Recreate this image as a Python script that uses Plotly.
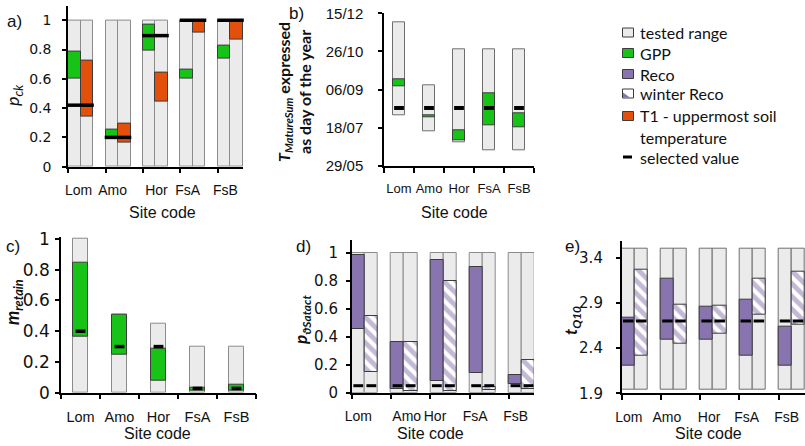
import plotly.graph_objects as go

W, H = 805, 446

sites = ["Lom", "Amo", "Hor", "FsA", "FsB"]

# a) p_ck : tested range, GPP-based and T1-based ranges, selected value
a_tested_lo = [0, 0, 0, 0, 0]
a_tested_hi = [1, 1, 1, 1, 1]
a_gpp_lo = [0.60, 0.20, 0.795, 0.60, 0.74]
a_gpp_hi = [0.785, 0.255, 0.97, 0.66, 0.83]
a_t1_lo = [0.345, 0.165, 0.445, 0.915, 0.87]
a_t1_hi = [0.725, 0.295, 0.64, 1.0, 1.0]
a_selected = [0.42, 0.20, 0.895, 1.0, 1.0]

# b) T_MatureSum as day of the year
b_day_ticks = [149, 199, 249, 299, 349]
b_day_labels = ["29/05", "18/07", "06/09", "26/10", "15/12"]
b_tested_lo = [216, 195, 180, 170, 170]
b_tested_hi = [337, 255, 302, 302, 302]
b_gpp_lo = [254, 213, 183, 202, 200]
b_gpp_hi = [263, 216, 196, 244, 218]
b_selected = [225, 225, 225, 225, 225]

# c) m_retain
c_tested_lo = [0, 0, 0, 0, 0]
c_tested_hi = [1.0, 0.505, 0.45, 0.30, 0.30]
c_gpp_lo = [0.365, 0.245, 0.075, 0.01, 0.01]
c_gpp_hi = [0.845, 0.505, 0.285, 0.03, 0.05]
c_selected = [0.40, 0.30, 0.30, 0.028, 0.028]

# d) p_theta_Satact : Reco and winter Reco
d_tested_lo = [0, 0, 0, 0, 0]
d_tested_hi = [1, 1, 1, 1, 1]
d_reco_lo = [0.455, 0.025, 0.085, 0.14, 0.065]
d_reco_hi = [0.985, 0.365, 0.945, 0.895, 0.125]
d_wreco_lo = [0.145, 0.01, 0.01, 0.02, 0.03]
d_wreco_hi = [0.545, 0.365, 0.795, 0.04, 0.235]
d_selected = [0.05, 0.05, 0.05, 0.05, 0.05]

# e) t_Q10 : Reco and winter Reco
e_tested_lo = [1.945, 1.945, 1.945, 1.945, 1.945]
e_tested_hi = [3.5, 3.5, 3.5, 3.5, 3.5]
e_reco_lo = [2.21, 2.49, 2.49, 2.32, 2.20]
e_reco_hi = [2.74, 3.17, 2.86, 2.94, 2.64]
e_wreco_lo = [2.32, 2.45, 2.56, 2.77, 2.66]
e_wreco_hi = [3.27, 2.88, 2.87, 3.17, 3.24]
e_selected = [2.70, 2.70, 2.70, 2.70, 2.70]

GREY = "#ebebeb"
GREY_LINE = "#8c8c8c"
GREEN = "#17c317"
ORANGE = "#e2500c"
PURPLE = "#8874ae"
DARK = "#3c3c3c"
TXT = "#111111"
WIDE = "DejaVu Sans, sans-serif"
ARIAL = "Liberation Sans, Arial, sans-serif"
LATO = "Lato, Carlito, Calibri, sans-serif"

fig = go.Figure()


def floating(n, xs, lo, hi, width, color, line_color, pattern=None):
    marker = dict(color=color, line=dict(color=line_color, width=1))
    if pattern is not None:
        marker["pattern"] = pattern
    fig.add_trace(go.Bar(
        x=xs, y=[h - l for l, h in zip(lo, hi)], base=lo, width=width,
        marker=marker, xaxis="x" + n, yaxis="y" + n,
        showlegend=False, hoverinfo="skip"))


def dashes(n, xs, ys, size, thick):
    fig.add_trace(go.Scatter(
        x=xs, y=ys, mode="markers",
        marker=dict(symbol="line-ew", size=size, color="black",
                    line=dict(width=thick, color="black")),
        xaxis="x" + n, yaxis="y" + n, showlegend=False, hoverinfo="skip",
        cliponaxis=False))


idx = list(range(len(sites)))
left = [i + 1 / 6 for i in idx]
right = [i + 1 / 2 for i in idx]
mid = [i + 1 / 3 for i in idx]
centre = [i + 0.5 for i in idx]
hatch = dict(shape="\\", fgcolor=PURPLE, bgcolor="white", size=9, solidity=0.55)

# a)
floating("", left, a_tested_lo, a_tested_hi, 1 / 3, GREY, GREY_LINE)
floating("", right, a_tested_lo, a_tested_hi, 1 / 3, GREY, GREY_LINE)
floating("", left, a_gpp_lo, a_gpp_hi, 1 / 3, GREEN, DARK)
floating("", right, a_t1_lo, a_t1_hi, 1 / 3, ORANGE, DARK)
dashes("", mid, a_selected, 19, 3.5)

# b)
floating("2", centre, b_tested_lo, b_tested_hi, 0.39, GREY, "#6e6e6e")
floating("2", centre, b_gpp_lo, b_gpp_hi, 0.39, GREEN, DARK)
dashes("2", centre, b_selected, 7, 4)

# c)
floating("3", centre, c_tested_lo, c_tested_hi, 0.4, GREY, GREY_LINE)
floating("3", centre, c_gpp_lo, c_gpp_hi, 0.4, GREEN, DARK)
dashes("3", centre, c_selected, 7, 3.5)

# d)
floating("4", left, d_tested_lo, d_tested_hi, 1 / 3, GREY, GREY_LINE)
floating("4", right, d_tested_lo, d_tested_hi, 1 / 3, GREY, GREY_LINE)
floating("4", left, d_reco_lo, d_reco_hi, 1 / 3, PURPLE, DARK)
floating("4", right, d_wreco_lo, d_wreco_hi, 1 / 3, "white", DARK, hatch)
dashes("4", left + right, d_selected + d_selected, 7, 3)

# e)
floating("5", left, e_tested_lo, e_tested_hi, 1 / 3, GREY, "#6e6e6e")
floating("5", right, e_tested_lo, e_tested_hi, 1 / 3, GREY, "#6e6e6e")
floating("5", left, e_reco_lo, e_reco_hi, 1 / 3, PURPLE, DARK)
floating("5", right, e_wreco_lo, e_wreco_hi, 1 / 3, "white", DARK, hatch)
dashes("5", left + right, e_selected + e_selected, 7.5, 3)


def px(p):
    return p / W


def py(p):
    return 1 - p / H


def xaxis(anchor, x0, x1, rng, labpos, fsize, standoff):
    return dict(
        domain=[px(x0), px(x1)], range=rng, anchor=anchor, automargin=False,
        tickmode="array", tickvals=labpos, ticktext=sites, ticks="",
        tickangle=0,
        showline=True, linecolor="black", linewidth=1.5,
        showgrid=False, zeroline=False, ticklabelstandoff=standoff,
        tickfont=dict(family=ARIAL, size=fsize, color=TXT),
        minor=dict(tickmode="linear", tick0=0, dtick=1, ticks="outside",
                   ticklen=5, tickwidth=1.5, tickcolor="black", showgrid=False))


def yaxis(anchor, y0, y1, rng, font, fsize, standoff, **kw):
    d = dict(
        domain=[py(y0), py(y1)], range=rng, anchor=anchor, automargin=False,
        ticks="outside", ticklen=4, tickwidth=1.5, tickcolor="black",
        showline=True, linecolor="black", linewidth=1.5,
        showgrid=False, zeroline=False, ticklabelstandoff=standoff,
        tickfont=dict(family=font, size=fsize, color=TXT))
    d.update(kw)
    return d


fig.update_layout(
    width=W, height=H, margin=dict(l=0, r=0, t=0, b=0),
    paper_bgcolor="white", plot_bgcolor="white",
    barmode="overlay", bargap=0, showlegend=False,
    xaxis=xaxis("y", 68, 243, [0, 4.667], [0.28, 1.19, 2.36, 3.19, 4.2], 14, 10),
    yaxis=yaxis("x", 166.7, 5.6, [0, 1.1], WIDE, 14, 8, tickmode="array",
                tickvals=[0, 0.2, 0.4, 0.6, 0.8, 1]),
    xaxis2=xaxis("y2", 384, 534, [0, 5], centre, 13, 10),
    yaxis2=yaxis("x2", 166, 13.3, [149, 349], ARIAL, 15, 12, tickmode="array",
                 tickvals=b_day_ticks, ticktext=b_day_labels),
    xaxis3=xaxis("y3", 61, 256, [0, 5], centre, 14.5, 10),
    yaxis3=yaxis("x3", 392.7, 236.7, [0, 1.015], WIDE, 17, 2, tickmode="array",
                 tickvals=[0, 0.2, 0.4, 0.6, 0.8, 1]),
    xaxis4=xaxis("y4", 351.7, 534, [0, 4.639], [0.17, 1.40, 2.12, 3.14, 4.17], 14, 10),
    yaxis4=yaxis("x4", 392.7, 240, [0, 1.0907], WIDE, 15, 5, tickmode="array",
                 tickvals=[0, 0.2, 0.4, 0.6, 0.8, 1]),
    xaxis5=xaxis("y5", 621.7, 805, [0, 4.676], [0.18, 1.15, 2.23, 3.19, 4.21], 14, 10),
    yaxis5=yaxis("x5", 393.3, 240.7, [1.9, 3.588], WIDE, 15, 10, tickmode="array",
                 tickvals=[1.9, 2.4, 2.9, 3.4]),
)

ann = []


def text(x, y, s, size, family=ARIAL, angle=0, xanchor="center", yanchor="middle"):
    ann.append(dict(x=px(x), y=py(y), xref="paper", yref="paper", text=s,
                    showarrow=False, textangle=angle, xanchor=xanchor,
                    yanchor=yanchor, font=dict(family=family, size=size, color=TXT)))


# panel letters
text(14, 21, "a)", 17)
text(296, 14, "b)", 17)
text(13, 246, "c)", 17)
text(303, 246, "d)", 17)
text(572, 246, "e)", 17)

# axis titles
text(13, 95, "<i>p</i><sub><i>ck</i></sub>", 18, LATO, -90)
text(294, 92, "<b><i>T</i></b><sub><b><i>MatureSum</i></b></sub><b> expressed</b>"
     "<br><b>as day of the year</b>", 16, LATO, -90)
text(13, 302, "<b><i>m</i></b><sub><b><i>retain</i></b></sub>", 18, LATO, -90)
text(302, 320, "<b><i>p</i></b><sub><b><i>ϑSatact</i></b></sub>", 17, LATO, -90)
text(572, 321, "<b><i>t</i></b><sub><b><i>Q10</i></b></sub>", 17, LATO, -90)

# x axis titles
text(162, 213, "Site code", 16)
text(455, 213, "Site code", 16)
text(157, 433, "Site code", 16)
text(430, 433, "Site code", 16)
text(708, 433, "Site code", 16)

# legend
shapes = []
leg_rows = [(32.5, "tested range", GREY), (53, "GPP", GREEN), (74, "Reco", PURPLE),
            (93.5, "winter Reco", "white"), (116, "T1 - uppermost soil", ORANGE)]
for yc, label, col in leg_rows:
    shapes.append(dict(type="rect", xref="paper", yref="paper",
                       x0=px(622.5), x1=px(633.5), y0=py(yc + 4.5), y1=py(yc - 4.5),
                       fillcolor=col, line=dict(color=DARK, width=1)))
    text(638, yc, label, 16, LATO, xanchor="left")
# diagonal purple wedge for the winter Reco key
shapes.append(dict(type="path", xref="paper", yref="paper",
                   path=f"M {px(623)},{py(93.5 - 1)} L {px(630)},{py(93.5 + 4)} "
                        f"L {px(623)},{py(93.5 + 4)} Z",
                   fillcolor=PURPLE, line=dict(width=0)))
text(638, 137, "temperature", 16, LATO, xanchor="left")
shapes.append(dict(type="line", xref="paper", yref="paper",
                   x0=px(623), x1=px(632), y0=py(157), y1=py(157),
                   line=dict(color="black", width=3)))
text(638, 157, "selected value", 16, LATO, xanchor="left")

fig.update_layout(annotations=ann, shapes=shapes)
fig.write_html("out.html")
